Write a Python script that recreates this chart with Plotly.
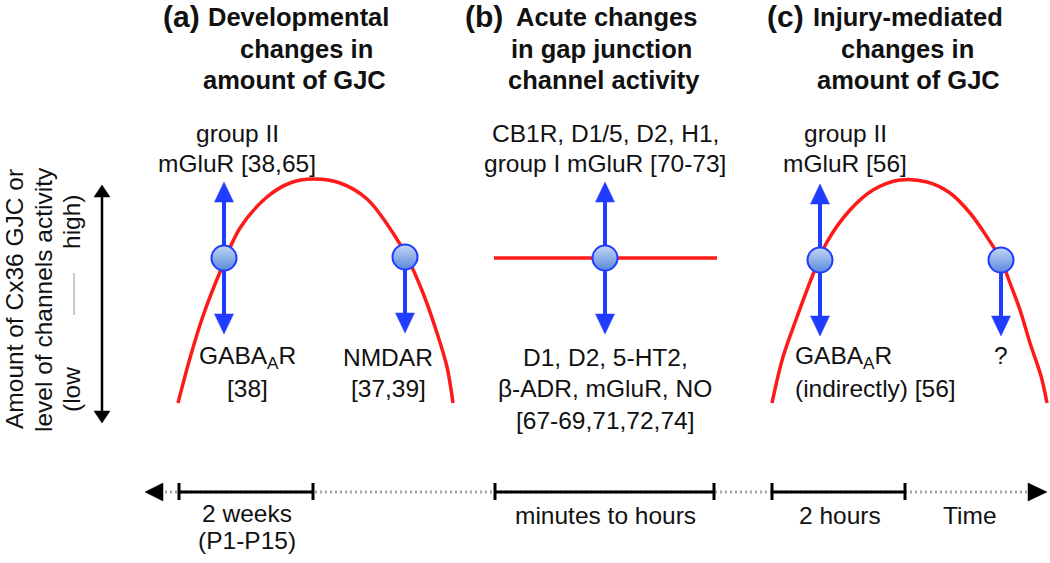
import plotly.graph_objects as go

# ------------------------------------------------------------------ data
panel_letters = ["(a)", "(b)", "(c)"]
panel_titles = [
    ["Developmental", "changes in", "amount of GJC"],
    ["Acute changes", "in gap junction", "channel activity"],
    ["Injury-mediated", "changes in", "amount of GJC"],
]
up_labels = [
    ["group II", "mGluR [38,65]"],
    ["CB1R, D1/5, D2, H1,", "group I mGluR [70-73]"],
    ["group II", "mGluR [56]"],
]
down_labels_a = [["GABA<sub>A</sub>R", "[38]"], ["NMDAR", "[37,39]"]]
down_labels_b = ["D1, D2, 5-HT2,", "β-ADR, mGluR, NO", "[67-69,71,72,74]"]
down_labels_c = [["GABA<sub>A</sub>R", "(indirectly) [56]"], ["?"]]
time_labels = ["2 weeks", "(P1-P15)", "minutes to hours", "2 hours", "Time"]
ylabel_lines = ["Amount of Cx36 GJC or", "level of channels activity"]
ylabel_low_high = ["(low", "high)"]

# bell-shaped curves, points (diagram units)
curve_a_x = [178, 190, 203, 220, 240, 267, 290, 313, 340, 367, 393, 407, 423, 437, 447, 453]
curve_a_y = [403, 358, 316, 272, 228, 197, 183, 179, 183, 199, 233, 257, 293, 333, 367, 403]
curve_c_x = [772, 783, 797, 812, 827, 850, 873, 900, 927, 950, 970, 987, 1001, 1010, 1020, 1030, 1041, 1047]
curve_c_y = [403, 357, 317, 277, 242, 210, 190, 180, 182, 193, 213, 237, 260, 283, 310, 343, 376, 403]
# flat line of panel (b)
flat_b_x = [494, 717]
flat_b_y = [258, 258]

# regulation nodes (circle) and the arrows leaving them
node_x = [224, 405, 605, 820, 1001]
node_y = [258, 257, 258, 260, 260]
node_up = [True, False, True, True, False]
node_down = [True, True, True, True, True]

# time line segments (solid parts) on the bottom axis
time_solid = [(179, 313), (495, 714), (772, 905)]

# ------------------------------------------------------------------ style
RED = "#ff1a1a"
BLUE = "#1f3cff"
FONT = "Liberation Sans, Arial, sans-serif"
TXT = "#111111"

fig = go.Figure()


def tri(xt, yt, d, length, width):
    """triangle with tip at (xt, yt); d = +1 points down, -1 points up, 'l'/'r' horizontal"""
    if d in (1, -1):
        yb = yt - d * length
        return [xt, xt - width / 2, xt + width / 2, xt], [yt, yb, yb, yt]
    s = -1 if d == "l" else 1
    xb = xt - s * length
    return [xt, xb, xb, xt], [yt, yt - width / 2, yt + width / 2, yt]


def add_tri(xs, ys, color):
    fig.add_trace(go.Scatter(x=xs, y=ys, mode="lines", fill="toself",
                             fillcolor=color, line=dict(color=color, width=0.5),
                             hoverinfo="skip"))


def add_line(xs, ys, color, width, dash=None, shape="linear"):
    fig.add_trace(go.Scatter(x=xs, y=ys, mode="lines",
                             line=dict(color=color, width=width, dash=dash, shape=shape),
                             hoverinfo="skip"))


# red curves
add_line(curve_a_x, curve_a_y, RED, 3.5, shape="spline")
add_line(curve_c_x, curve_c_y, RED, 3.5, shape="spline")
add_line(flat_b_x, flat_b_y, RED, 3.5)

# blue arrows
ARR_LEN = 76
HEAD_L, HEAD_W = 20, 19
for x, y, up, dn in zip(node_x, node_y, node_up, node_down):
    if up:
        tip = y - ARR_LEN
        add_line([x, x], [y, tip + HEAD_L - 1], BLUE, 4)
        add_tri(*tri(x, tip, -1, HEAD_L, HEAD_W), BLUE)
    if dn:
        tip = y + ARR_LEN
        add_line([x, x], [y, tip - HEAD_L + 1], BLUE, 4)
        add_tri(*tri(x, tip, 1, HEAD_L, HEAD_W), BLUE)

# circles
fig.add_trace(go.Scatter(
    x=node_x, y=node_y, mode="markers",
    marker=dict(size=25, color="#c4d7f6",
                gradient=dict(type="vertical", color="#5a88dc"),
                line=dict(color=BLUE, width=2)),
    hoverinfo="skip"))

# y-axis double arrow
YA_X, YA_TOP, YA_BOT = 102, 185, 423
add_line([YA_X, YA_X], [YA_TOP + 10, YA_BOT - 10], "#000000", 2.5)
add_tri(*tri(YA_X, YA_TOP, -1, 12, 16), "#000000")
add_tri(*tri(YA_X, YA_BOT, 1, 12, 16), "#000000")
add_line([74, 74], [273, 315], "#c8c8c8", 2)

# time axis
T_Y = 492
add_line([160, 1030], [T_Y, T_Y], "#a6a6a6", 3, dash="2px,3px")
for a, b in time_solid:
    add_line([a, b], [T_Y, T_Y], "#000000", 3)
    for t in (a, b):
        add_line([t, t], [T_Y - 9, T_Y + 8], "#000000", 3)
add_tri(*tri(145, T_Y, "l", 18, 18), "#000000")
add_tri(*tri(1047, T_Y, "r", 19, 18), "#000000")

# ------------------------------------------------------------------ text
ann = []


def text(x, y, s, size=24.5, bold=False, xanchor="center", angle=0):
    ann.append(dict(x=x, y=y, xref="x", yref="y", text=("<b>%s</b>" % s) if bold else s,
                    showarrow=False, xanchor=xanchor, yanchor="middle", textangle=angle,
                    font=dict(family=FONT, size=size, color=TXT)))


letter_x = [181, 484, 785]
title_cx = [[298, 306, 294], [606, 601, 604], [908, 907, 908]]
title_y = [17, 49, 80]
for i in range(3):
    text(letter_x[i], title_y[0] - 1, panel_letters[i], size=30, bold=True)
    for j in range(3):
        text(title_cx[i][j], title_y[j], panel_titles[i][j], size=25.5, bold=True)

up_cx = [237, 605, 845]
for i in range(3):
    text(up_cx[i], 133, up_labels[i][0])
    text(up_cx[i], 163, up_labels[i][1])

down_y = [357, 388, 420]
for cx, lines in zip([247, 388], down_labels_a):
    for j, s in enumerate(lines):
        text(cx, down_y[j], s)
for j, s in enumerate(down_labels_b):
    text(605, down_y[j], s)
for j, s in enumerate(down_labels_c[0]):
    text(793, down_y[j], s, xanchor="left")
text(1001, 355, down_labels_c[1][0])

text(247, 513, time_labels[0])
text(247, 540, time_labels[1])
text(605, 515, time_labels[2])
text(840, 515, time_labels[3])
text(970, 515, time_labels[4])

text(14, 299, ylabel_lines[0], angle=-90)
text(43, 300, ylabel_lines[1], angle=-90)
text(71, 390, ylabel_low_high[0], angle=-90)
text(71, 222, ylabel_low_high[1], angle=-90)

fig.update_layout(
    width=1050, height=563, autosize=False,
    margin=dict(l=0, r=0, t=0, b=0, pad=0),
    paper_bgcolor="white", plot_bgcolor="white",
    showlegend=False,
    xaxis=dict(range=[0, 1050], visible=False, fixedrange=True),
    yaxis=dict(range=[563, 0], visible=False, fixedrange=True),
    annotations=ann,
)
fig.write_html(
    "out.html",
    config={"displayModeBar": False},
    post_script="document.body.style.margin='0px';document.body.style.overflow='hidden';",
)
